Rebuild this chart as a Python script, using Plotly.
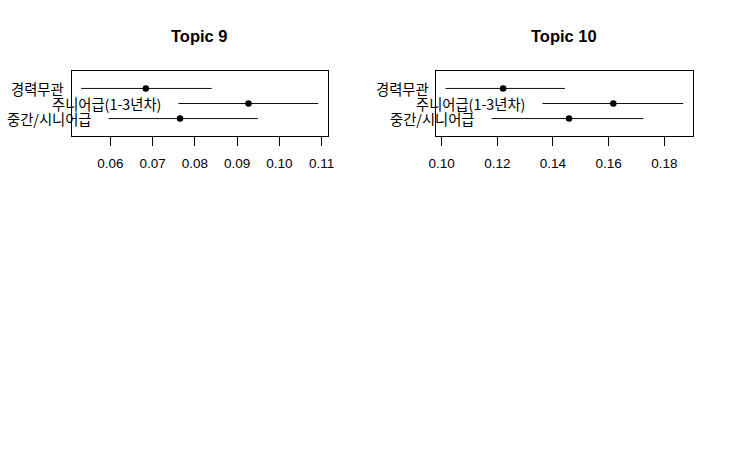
import plotly.graph_objects as go

W, H = 729, 450

categories = ["경력무관", "주니어급(1-3년차)", "중간/시니어급"]
cat_pos = [3, 2, 1]

topic_titles = ["Topic 9", "Topic 10"]

t9_est = [0.0684, 0.0927, 0.0765]
t9_lo = [0.0531, 0.0761, 0.0596]
t9_hi = [0.0840, 0.1092, 0.0949]

t10_est = [0.1221, 0.1617, 0.1458]
t10_lo = [0.1014, 0.1362, 0.1180]
t10_hi = [0.1443, 0.1868, 0.1725]

t9_ticks = [0.06, 0.07, 0.08, 0.09, 0.10, 0.11]
t10_ticks = [0.10, 0.12, 0.14, 0.16, 0.18]

panels = [
    (t9_est, t9_lo, t9_hi, t9_ticks),
    (t10_est, t10_lo, t10_hi, t10_ticks),
]

# plot-box pixel geometry (left, right) for each panel, shared top/bottom
box_x = [(71.7, 327.7), (436.0, 692.7)]
box_top, box_bot = 71.0, 136.0

fig = go.Figure()
LABEL_FONT = dict(family="Noto Sans CJK KR", size=14.3, color="black")

for i, (est, lo, hi, ticks) in enumerate(panels):
    xa = "x" if i == 0 else f"x{i+1}"
    ya = "y" if i == 0 else f"y{i+1}"
    # CI lines
    for e, l, h, p in zip(est, lo, hi, cat_pos):
        fig.add_trace(go.Scatter(x=[l, h], y=[p, p], mode="lines",
                                 line=dict(color="#111111", width=1),
                                 xaxis=xa, yaxis=ya, showlegend=False,
                                 hoverinfo="skip"))
    fig.add_trace(go.Scatter(x=est, y=cat_pos, mode="markers",
                             marker=dict(color="black", size=6.5),
                             xaxis=xa, yaxis=ya, showlegend=False,
                             cliponaxis=False))
    # labels to the left of lower CI bound
    for lab, l, p in zip(categories, lo, cat_pos):
        fig.add_annotation(x=l, y=p, xref=xa, yref=ya, text=lab,
                           showarrow=False, xanchor="right", yanchor="middle",
                           xshift=-15, font=LABEL_FONT)
    mn, mx = min(lo), max(hi)
    ext = (mx - mn) * 0.04
    x0, x1 = box_x[i]
    axis_key = "xaxis" if i == 0 else f"xaxis{i+1}"
    yaxis_key = "yaxis" if i == 0 else f"yaxis{i+1}"
    fig.update_layout(**{
        axis_key: dict(domain=[x0 / W, x1 / W], range=[mn - ext, mx + ext],
                       anchor=ya, tickvals=ticks, tickformat=".2f",
                       ticks="outside", ticklen=9, tickcolor="black",
                       tickwidth=1, showgrid=False, zeroline=False,
                       showline=True, linecolor="black", linewidth=1,
                       mirror=True, automargin=False, ticklabelstandoff=6,
                       tickfont=dict(family="Liberation Sans", size=13.5,
                                     color="black")),
        yaxis_key: dict(domain=[1 - box_bot / H, 1 - box_top / H],
                        range=[-0.16, 4.16], anchor=xa, showticklabels=False,
                        ticks="", showgrid=False, zeroline=False,
                        showline=True, linecolor="black", linewidth=1,
                        mirror=True, automargin=False),
    })
    fig.add_annotation(x=(x0 + x1) / 2 / W, y=1 - 35.7 / H, xref="paper",
                       yref="paper", text="<b>" + topic_titles[i] + "</b>",
                       showarrow=False, xanchor="center", yanchor="middle",
                       font=dict(family="Liberation Sans", size=16.5,
                                 color="black"))

fig.update_layout(width=W, height=H, autosize=False,
                  margin=dict(l=0, r=0, t=0, b=0, pad=0),
                  paper_bgcolor="white", plot_bgcolor="white",
                  showlegend=False)

fig.write_html("out.html", config={"displayModeBar": False})
